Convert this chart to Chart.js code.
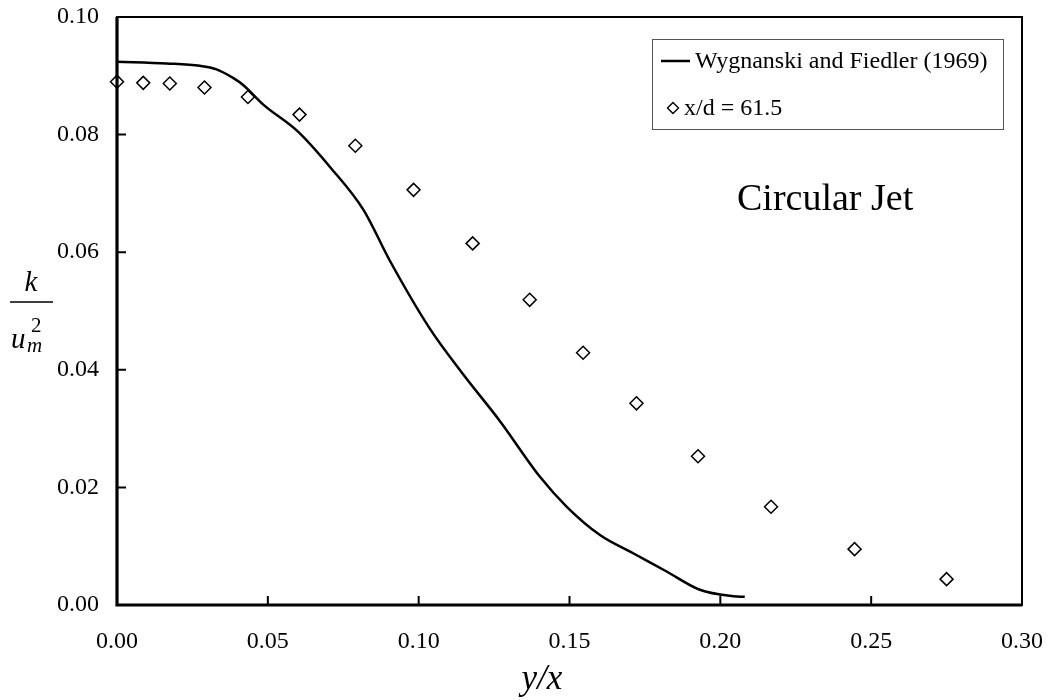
<!DOCTYPE html>
<html>
<head>
<meta charset="utf-8">
<script src="https://cdn.jsdelivr.net/npm/chart.js@4/dist/chart.umd.min.js"></script>
<style>
  html, body { margin: 0; padding: 0; background: #fff; }
  #wrap { width: 1050px; height: 700px; }
</style>
</head>
<body>
<div id="wrap"><canvas id="chart" width="1050" height="700"></canvas></div>
<script>
// ---- data ----
const curveX = [0, 0.0165, 0.0275, 0.0330, 0.0386, 0.0419, 0.0485, 0.0600, 0.0706, 0.0817, 0.0905,
  0.1037, 0.1148, 0.1269, 0.1402, 0.1491, 0.1601, 0.1711, 0.1822, 0.1932, 0.2043, 0.2081]
const curveY = [0.0924, 0.0921, 0.0917, 0.0911, 0.0896, 0.0884, 0.0851, 0.0805, 0.0745, 0.0672, 0.0585,
  0.0470, 0.0392, 0.0313, 0.0218, 0.0167, 0.0119, 0.0088, 0.0057, 0.0026, 0.0015, 0.0014]
const jetX = [0.0, 0.0087, 0.0175, 0.0290, 0.0434, 0.0605, 0.0790, 0.0983, 0.1179, 0.1368, 0.1545, 0.1722,
  0.1926, 0.2168, 0.2445, 0.2750]
const jetY = [0.0890, 0.0888, 0.0887, 0.0880, 0.0864, 0.0834, 0.0781, 0.0706, 0.0615, 0.0519, 0.0429, 0.0343,
  0.0253, 0.0167, 0.0095, 0.0044]
const xTicks = [0, 0.05, 0.10, 0.15, 0.20, 0.25, 0.30]
const yTicks = [0, 0.02, 0.04, 0.06, 0.08, 0.10]
const seriesNames = ['Wygnanski and Fiedler (1969)', 'x/d = 61.5']
const panelLabel = 'Circular Jet'

const SERIF = '"Liberation Serif", "Times New Roman", serif'

const toPts = (xs, ys) => xs.map((x, i) => ({ x, y: ys[i] }))

// frame, inward ticks, legend box, annotations
const decor = {
  id: 'decor',
  afterDraw(chart) {
    const { ctx, chartArea: a, scales } = chart
    const xs = scales.x, ys = scales.y
    ctx.save()
    ctx.strokeStyle = '#000'
    ctx.lineCap = 'butt'

    // ticks pointing into the plot
    ctx.lineWidth = 2
    ctx.beginPath()
    yTicks.forEach(v => { const p = ys.getPixelForValue(v); ctx.moveTo(a.left, p); ctx.lineTo(a.left + 9, p) })
    xTicks.forEach(v => { const p = xs.getPixelForValue(v); ctx.moveTo(p, a.bottom); ctx.lineTo(p, a.bottom - 9) })
    ctx.stroke()

    // frame
    ctx.lineWidth = 2
    ctx.strokeRect(a.left, a.top, a.right - a.left, a.bottom - a.top)
    ctx.lineWidth = 3.2
    ctx.beginPath()
    ctx.moveTo(a.left, a.top); ctx.lineTo(a.left, a.bottom); ctx.lineTo(a.right, a.bottom)
    ctx.stroke()

    // legend
    const ds = chart.data.datasets
    const lx = 652, ly = 39, lw = 351, lh = 90
    ctx.fillStyle = '#fff'
    ctx.fillRect(lx, ly, lw, lh)
    ctx.lineWidth = 1
    ctx.strokeStyle = '#555'
    ctx.strokeRect(lx + 0.5, ly + 0.5, lw, lh)
    ctx.strokeStyle = ds[0].borderColor
    ctx.lineWidth = ds[0].borderWidth
    ctx.beginPath(); ctx.moveTo(661, 61); ctx.lineTo(690, 61); ctx.stroke()
    ctx.strokeStyle = ds[1].borderColor
    ctx.lineWidth = 1.4
    ctx.fillStyle = '#fff'
    Chart.helpers.drawPoint(ctx, { pointStyle: ds[1].pointStyle, radius: 5.5, borderWidth: 1.4 }, 673, 108)
    ctx.fillStyle = '#000'
    ctx.font = '24px ' + SERIF
    ctx.textBaseline = 'middle'
    ctx.textAlign = 'left'
    ctx.fillText(ds[0].label, 695, 62)
    ctx.fillText(ds[1].label, 684, 109)

    // panel label
    ctx.font = '38px ' + SERIF
    ctx.textBaseline = 'alphabetic'
    ctx.fillText(panelLabel, 737, 210)

    // x title  y/x
    ctx.font = 'italic 35px ' + SERIF
    ctx.textAlign = 'center'
    ctx.fillText('y/x', 542, 689)

    // y title  k / u_m^2
    ctx.font = 'italic 29px ' + SERIF
    ctx.fillText('k', 31, 291)
    ctx.lineWidth = 1.5
    ctx.strokeStyle = '#000'
    ctx.beginPath(); ctx.moveTo(10, 302); ctx.lineTo(53, 302); ctx.stroke()
    ctx.textAlign = 'left'
    ctx.fillText('u', 11, 348)
    ctx.font = 'italic 21px ' + SERIF
    ctx.fillText('m', 27, 352)
    ctx.font = '21px ' + SERIF
    ctx.fillText('2', 31, 332)
    ctx.restore()
  },
}

new Chart(document.getElementById('chart'), {
  type: 'scatter',
  data: {
    datasets: [
      {
        type: 'line',
        label: seriesNames[0],
        data: toPts(curveX, curveY),
        borderColor: '#000',
        borderWidth: 2.5,
        pointRadius: 0,
        fill: false,
        cubicInterpolationMode: 'monotone',
      },
      {
        label: seriesNames[1],
        data: toPts(jetX, jetY),
        pointStyle: 'rectRot',
        pointRadius: 6.5,
        borderWidth: 1.5,
        borderColor: '#000',
        backgroundColor: 'rgba(255,255,255,0)',
        clip: false,
      },
    ],
  },
  options: {
    responsive: false,
    animation: false,
    layout: { padding: { left: 0, top: 17, right: 28, bottom: 0 } },
    plugins: { legend: { display: false }, tooltip: { enabled: false } },
    scales: {
      x: {
        type: 'linear', min: 0, max: 0.3,
        afterBuildTicks: (s) => { s.ticks = xTicks.map(v => ({ value: v })) },
        afterFit: (s) => { s.height = 95; s.paddingLeft = 0; s.paddingRight = 0 },
        grid: { display: false, drawTicks: false },
        border: { display: false },
        ticks: { callback: (v) => v.toFixed(2), color: '#000', font: { family: SERIF, size: 24 }, padding: 22, maxRotation: 0 },
      },
      y: {
        type: 'linear', min: 0, max: 0.1,
        afterBuildTicks: (s) => { s.ticks = yTicks.map(v => ({ value: v })) },
        afterFit: (s) => { s.width = 117; s.paddingTop = 0; s.paddingBottom = 0 },
        grid: { display: false, drawTicks: false },
        border: { display: false },
        ticks: { callback: (v) => v.toFixed(2), color: '#000', font: { family: SERIF, size: 24 }, padding: 18 },
      },
    },
  },
  plugins: [decor],
})
</script>
</body>
</html>
